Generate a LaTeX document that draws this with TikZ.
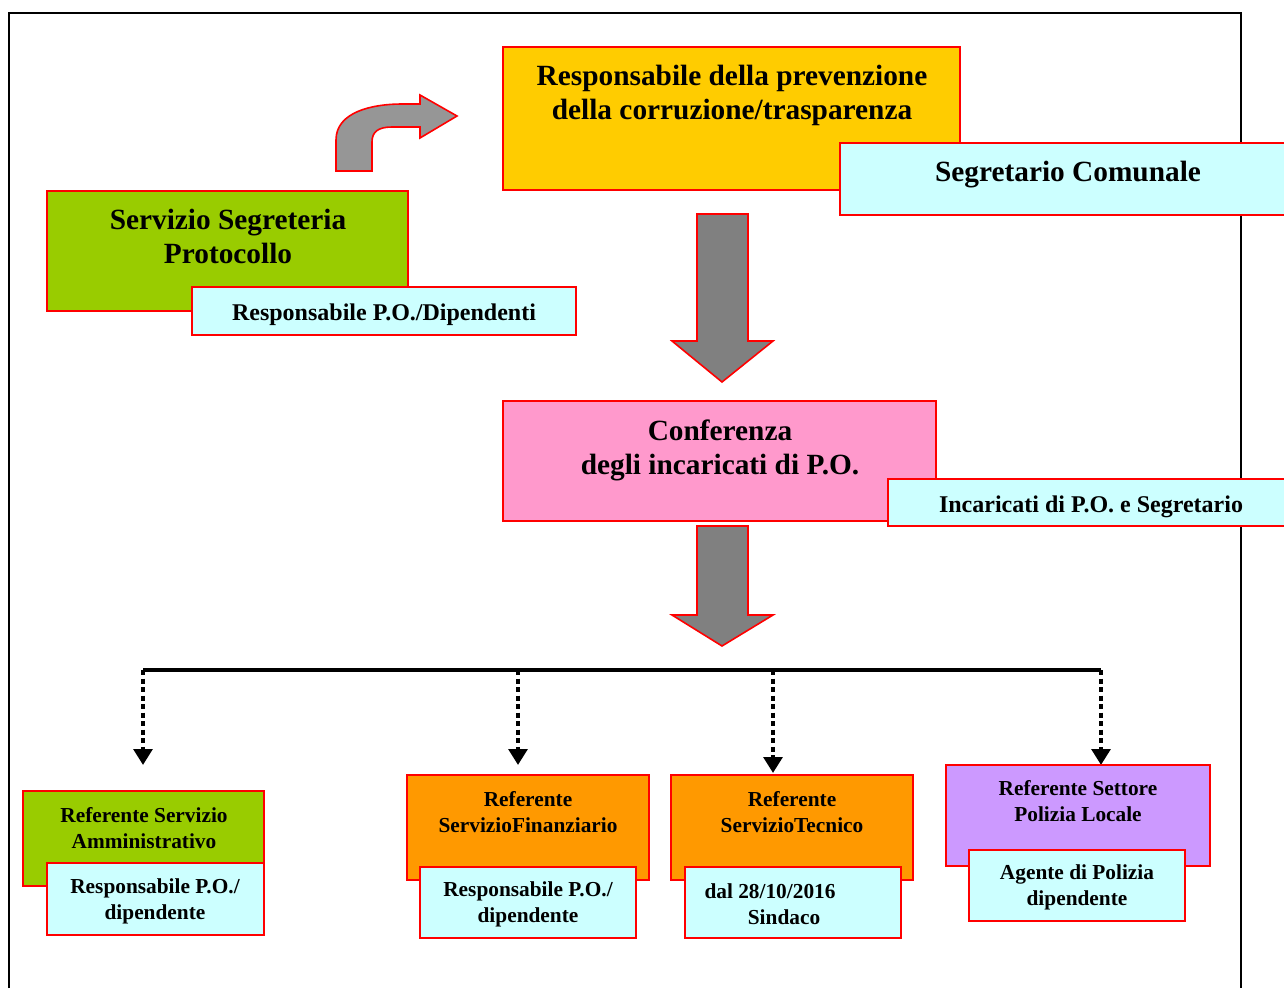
\documentclass[tikz,border=0pt]{standalone}
\usepackage{fontspec}
\setmainfont{Liberation Serif}
\usetikzlibrary{arrows.meta, positioning, calc, fit}

\definecolor{boxyellow}{HTML}{FFCC00}
\definecolor{boxcyan}{HTML}{CCFFFF}
\definecolor{boxgreen}{HTML}{99CC00}
\definecolor{boxpink}{HTML}{FF99CC}
\definecolor{boxorange}{HTML}{FF9900}
\definecolor{boxviolet}{HTML}{CC99FF}
\definecolor{arrowgray}{HTML}{808080}
\definecolor{bendgray}{HTML}{969696}

\begin{document}
\begin{tikzpicture}[x=0.75pt, y=-0.75pt,
    box/.style={draw=red, line width=1.2pt, inner sep=0pt, rectangle},
    big/.style={font=\fontsize{22}{25.5}\selectfont\bfseries, align=center},
    mid/.style={font=\fontsize{18}{21}\selectfont\bfseries, align=center},
    small/.style={font=\fontsize{16}{19.5}\selectfont\bfseries, align=center},
    blockarrow/.style={draw=red, line width=1.2pt, line join=miter},
    dotarrow/.style={line width=3.6pt, dash pattern=on 3.8pt off 2.6pt, -{Triangle[width=14pt,length=12pt]}}]
        \useasboundingbox (0,0) rectangle (1284,988);

        % Frame
        \draw[line width=1.5pt] (9,988) -- (9,13) -- (1241,13) -- (1241,988);

        % Top boxes
        \node[box, fill=boxyellow, fit={(503,47) (960,190)}] (resp) {};
        \node[big] (resp-txt) at (732,95) {Responsabile della prevenzione\\della corruzione/trasparenza};
        \node[box, fill=boxcyan, fit={(840,143) (1290,215)}] (seg) {};
        \node[big] (seg-txt) at (1068,175) {Segretario Comunale};

        \node[box, fill=boxgreen, fit={(47,191) (408,311)}] (serv) {};
        \node[big] (serv-txt) at (228,236) {Servizio Segreteria\\Protocollo};
        \node[box, fill=boxcyan, fit={(192,287) (576,335)}] (servpo) {};
        \node[mid] (servpo-txt) at (384,315) {Responsabile P.O./Dipendenti};

        % Bent arrow
        \draw[blockarrow, fill=bendgray] (336,171) -- (336,140)
            .. controls (336,112) and (372,104) .. (402,104) -- (420,104) -- (420,95)
            -- (457,116) -- (420,138) -- (420,127) -- (392,127)
            .. controls (378,127) and (372,132) .. (372,142) -- (372,171) -- cycle;

        % Conference
        \node[box, fill=boxpink, fit={(503,401) (936,521)}] (conf) {};
        \node[big] (conf-txt) at (720,450) {Conferenza\\degli incaricati di P.O.};
        \node[box, fill=boxcyan, fit={(888,479) (1290,526)}] (inc) {};
        \node[mid] (inc-txt) at (1091,507) {Incaricati di P.O. e Segretario};

        % Down arrows
        \foreach \top/\neck/\tip in {214/341/382, 526/615/646}
            \draw[blockarrow, fill=arrowgray] (697,\top) -- (697,\neck) -- (672,\neck)
                -- (722,\tip) -- (773,\neck) -- (748,\neck) -- (748,\top) -- cycle;

        % Distribution line
        \foreach \x/\y [count=\i] in {143/765, 518/765, 773/773, 1101/765} {
            \coordinate (j\i) at (\x,670);
            \coordinate (e\i) at (\x,\y);
            \draw[dotarrow] (j\i) -- (e\i);
        }
        \draw[line width=3pt] (j1) -- (j4);

        % Referenti
        \node[box, fill=boxgreen, fit={(23,791) (264,886)}] (amm) {};
        \node[small] (amm-txt) at (144,828) {Referente Servizio\\Amministrativo};
        \node[box, fill=boxcyan, fit={(47,863) (264,935)}] (ammpo) {};
        \node[small] (ammpo-txt) at (155,901) {Responsabile P.O./\\dipendente};

        \node[box, fill=boxorange, fit={(407,775) (649,880)}] (fin) {};
        \node[small] (fin-txt) at (528,812) {Referente\\ServizioFinanziario};
        \node[box, fill=boxcyan, fit={(420,867) (636,938)}] (finpo) {};
        \node[small] (finpo-txt) at (528,904) {Responsabile P.O./\\dipendente};

        \node[box, fill=boxorange, fit={(671,775) (913,880)}] (tec) {};
        \node[small] (tec-txt) at (792,812) {Referente\\ServizioTecnico};
        \node[box, fill=boxcyan, fit={(685,867) (901,938)}] (tecpo) {};
        \node[small] (tecpo-txt) at (784,904) {dal 28/10/2016\hspace*{21pt}\\Sindaco};

        \node[box, fill=boxviolet, fit={(946,765) (1210,866)}] (pol) {};
        \node[small] (pol-txt) at (1078,801) {Referente Settore\\Polizia Locale};
        \node[box, fill=boxcyan, fit={(969,850) (1185,921)}] (polpo) {};
        \node[small] (polpo-txt) at (1077,887) {Agente di Polizia\\dipendente};
    \end{tikzpicture}
\end{document}
